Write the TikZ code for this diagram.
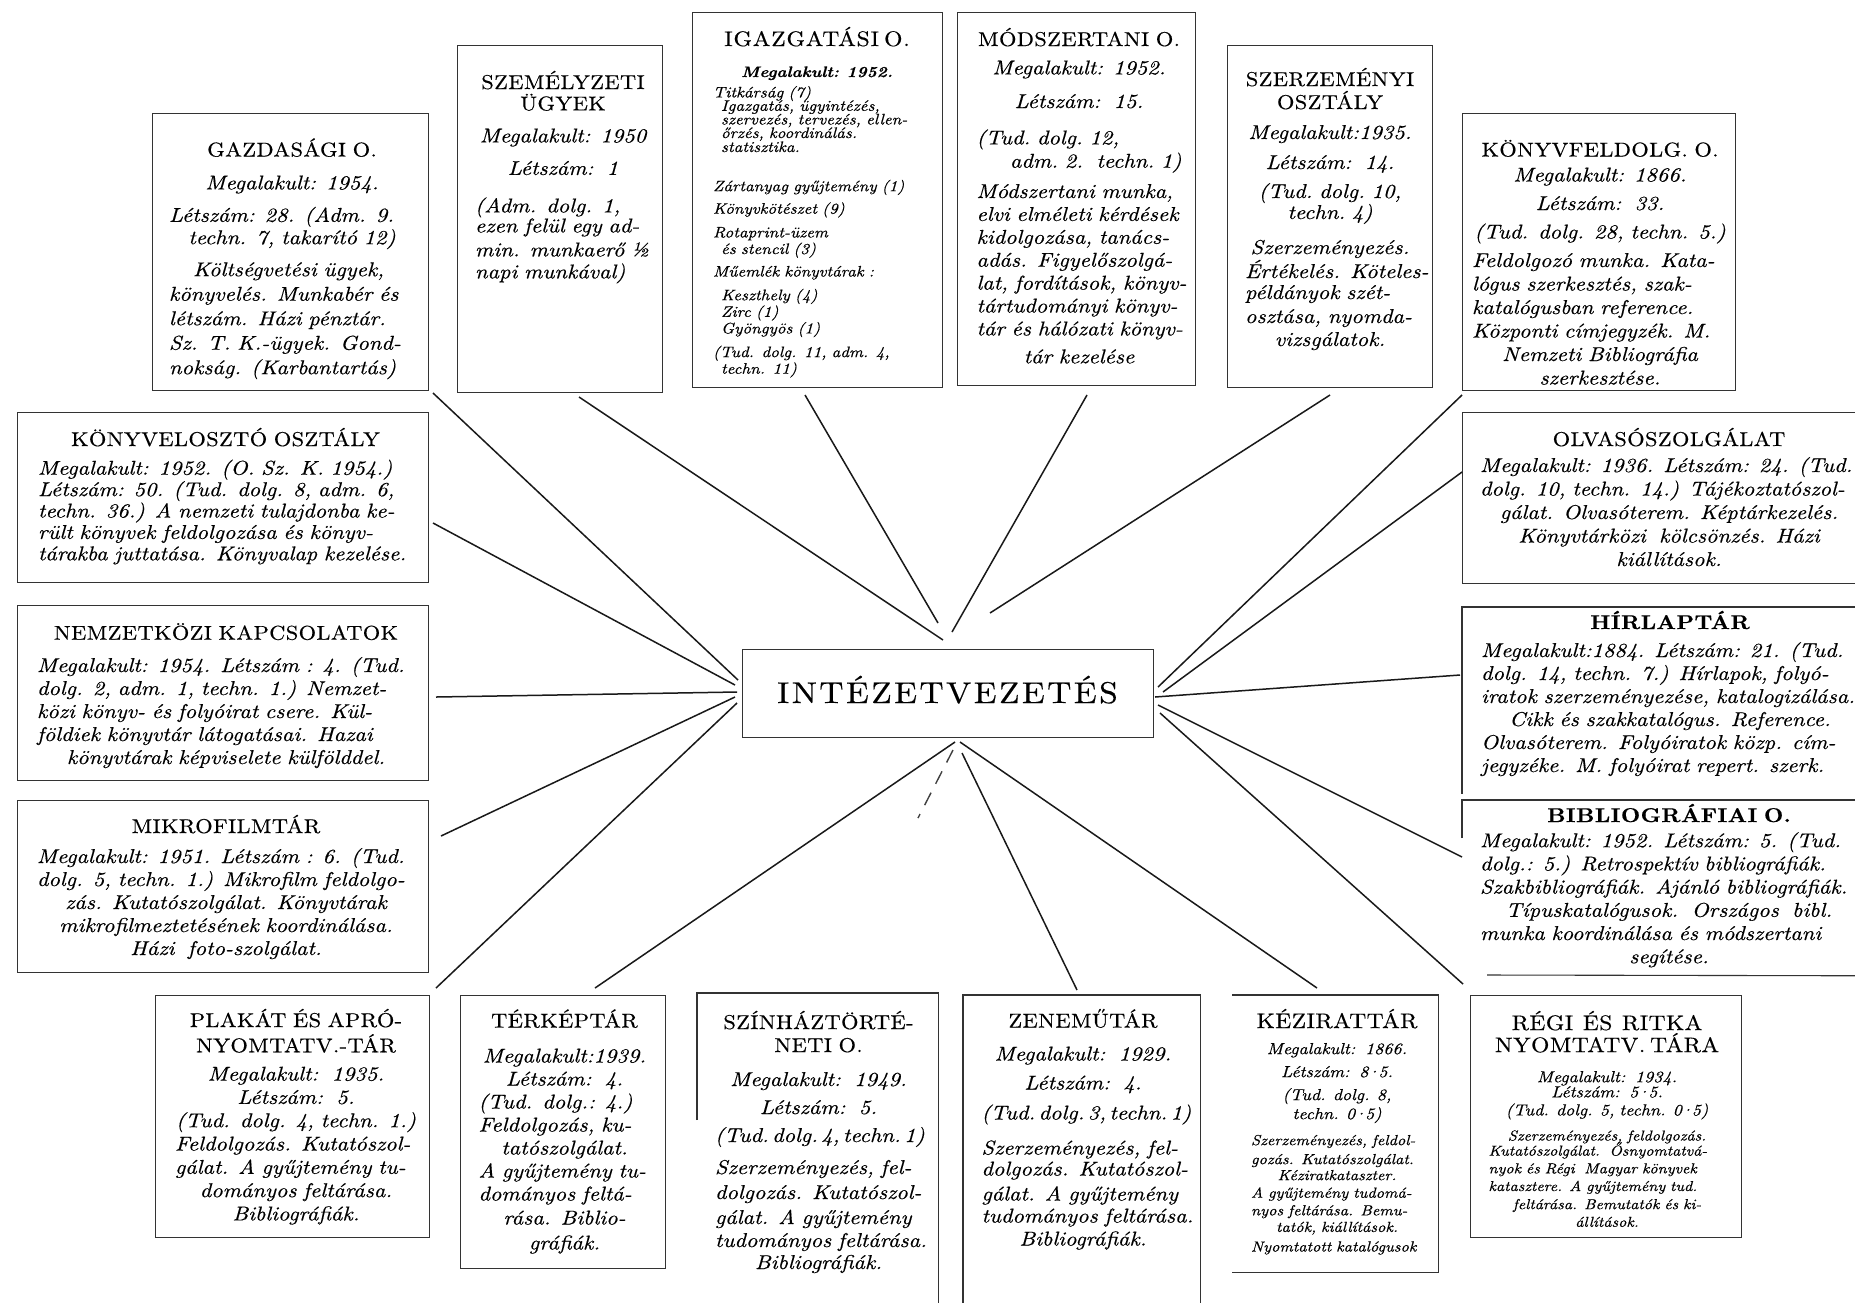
\documentclass[tikz,border=0pt]{standalone}
\usepackage{fontspec}
\setmainfont{lmroman10-regular.otf}[ItalicFont=lmroman10-italic.otf,BoldFont=lmroman10-bold.otf,BoldItalicFont=lmroman10-bolditalic.otf,FakeStretch=1.12,FakeBold=0.4]
\newcommand\J[1]{\makebox[\linewidth][s]{#1}}
\newcommand\ttl[2][2]{{\upshape\addfontfeature{LetterSpace=#1}#2}}
\newcommand\fs[2]{\fontsize{#1}{#2}\selectfont\lineskiplimit=-100pt\relax\itshape}
\newcommand\sz[1]{\fontsize{#1}{8.5}\selectfont}
\newcommand\md{\kern-.12em·\kern-.12em}
\tikzset{
  box/.style={draw=black!80,line width=0.55pt,inner sep=0pt,anchor=north west},
  openbox/.style={inner sep=0pt,anchor=north west},
  rim/.style={draw=black!80,line width=0.55pt},
  txt/.style={inner sep=0pt,anchor=base,align=center},
  conn/.style={line width=0.75pt,black!90},
  faintconn/.style={line width=0.7pt,black!75,dash pattern=on 7pt off 5pt}
}
\begin{document}
\begin{tikzpicture}[x=0.5pt,y=-0.5pt]
\useasboundingbox (0,0) rectangle (1855,1302);
\clip (0,0) rectangle (1855,1302);
\fill[white] (0,0) rectangle (1855,1302);

% ---------- boxes ----------
\node[box,minimum width=205.5pt,minimum height=44pt] (hub) at (742,649) {};
\node[box,minimum width=138pt,minimum height=138.5pt] (gazd) at (152,113) {};
\node[box,minimum width=102.5pt,minimum height=173.5pt] (szem) at (457,45) {};
\node[box,minimum width=125pt,minimum height=187.5pt] (igaz) at (692,12) {};
\node[box,minimum width=119pt,minimum height=186.5pt] (modsz) at (957,12) {};
\node[box,minimum width=102.5pt,minimum height=171pt] (szerz) at (1227,45) {};
\node[box,minimum width=136.5pt,minimum height=138.5pt] (konyvf) at (1462,113) {};
\node[box,minimum width=205.5pt,minimum height=85pt] (konyvel) at (17,412) {};
\node[box,minimum width=205.5pt,minimum height=87.5pt] (nemz) at (17,605) {};
\node[box,minimum width=205.5pt,minimum height=86pt] (mikro) at (17,800) {};
\node[box,minimum width=209pt,minimum height=85.5pt] (olv) at (1462,412) {};
\node[openbox,minimum width=209pt,minimum height=93pt] (hirl) at (1462,607) {};
\draw[rim] (hirl.south west) -- (hirl.north west) -- (hirl.north east);
\node[openbox,minimum width=209pt,minimum height=87.5pt] (bibl) at (1462,800) {};
\draw[rim] (1462,838) -- (bibl.north west) -- (bibl.north east);
\draw[rim] (1487,975) -- (bibl.south east);
\node[box,minimum width=136.75pt,minimum height=121pt] (plakat) at (155,995) {};
\node[box,minimum width=102.5pt,minimum height=136.5pt] (terkep) at (460,995) {};
\node[openbox,minimum width=120.5pt,minimum height=163.5pt] (szinh) at (697,993) {};
\draw[rim] (697,1120) -- (szinh.north west) -- (szinh.north east) -- (szinh.south east);
\node[openbox,minimum width=118.5pt,minimum height=162.5pt] (zene) at (963,995) {};
\draw[rim] (zene.south west) -- (zene.north west) -- (zene.north east) -- (zene.south east);
\node[openbox,minimum width=103pt,minimum height=138.5pt] (kezir) at (1232,995) {};
\draw[rim] (kezir.north west) -- (kezir.north east) -- (kezir.south east) -- (kezir.south west);
\node[box,minimum width=135.5pt,minimum height=121pt] (regi) at (1470,995) {};

% ---------- connectors ----------
\coordinate (gazd-e) at (433,393);    \coordinate (gazd-h) at (738,680);
\coordinate (konyvel-e) at (433,523); \coordinate (konyvel-h) at (735,685);
\coordinate (nemz-e) at (436,697);    \coordinate (nemz-h) at (737,692);
\coordinate (mikro-e) at (441,836);   \coordinate (mikro-h) at (735,697);
\coordinate (plakat-e) at (436,988);  \coordinate (plakat-h) at (737,703);
\coordinate (szem-e) at (579,397);    \coordinate (szem-h) at (943,640);
\coordinate (igaz-e) at (805,395);    \coordinate (igaz-h) at (938,623);
\coordinate (modsz-e) at (1087,395);  \coordinate (modsz-h) at (952,632);
\coordinate (szerz-e) at (1330,395);  \coordinate (szerz-h) at (990,613);
\coordinate (konyvf-e) at (1462,395); \coordinate (konyvf-h) at (1158,687);
\coordinate (olv-e) at (1462,472);    \coordinate (olv-h) at (1163,692);
\coordinate (hirl-e) at (1460,675);   \coordinate (hirl-h) at (1155,697);
\coordinate (bibl-e) at (1462,857);   \coordinate (bibl-h) at (1158,705);
\coordinate (regi-e) at (1463,984);   \coordinate (regi-h) at (1160,713);
\coordinate (terkep-e) at (595,988);  \coordinate (terkep-h) at (955,742);
\coordinate (szinh-e) at (918,818);   \coordinate (szinh-h) at (953,750);
\coordinate (zene-e) at (1077,990);   \coordinate (zene-h) at (962,753);
\coordinate (kezir-e) at (1317,988);  \coordinate (kezir-h) at (960,742);
\foreach \n in {gazd,konyvel,nemz,mikro,plakat,szem,igaz,modsz,szerz,konyvf,olv,hirl,bibl,regi,terkep,zene,kezir}
  \draw[conn] (\n-e) -- (\n-h);
\draw[faintconn] (szinh-h) -- (szinh-e);

% ---------- texts ----------
\node[txt] (hubT) at (947.5,703) {\fontsize{15}{18}\selectfont\addfontfeature{LetterSpace=8}INTÉZETVEZETÉS};

\node[txt,text width=123pt,font=\fs{10}{12.25}] (gazdT) at (292,156.5) {%
\ttl{GAZDASÁGI O.}\\[4.2pt]
Megalakult: 1954.\\[3.95pt]
\J{Létszám: 28. (Adm. 9.}\\[-1.05pt]
techn. 7, takarító 12)\\[3.75pt]
\J{\hspace*{1.2em}Költségvetési ügyek,}\\
\J{könyvelés. Munkabér és}\\
\J{létszám. Házi pénztár.}\\
\J{Sz. T. K.-ügyek. Gond-}\\
\J{nokság. (Karbantartás)}};

\node[txt,text width=88pt,font=\fs{10}{11}] (szemT) at (563,89) {%
\ttl{SZEMÉLYZETI}\\[-0.3pt]
\ttl{ÜGYEK}\\[5pt]
Megalakult: 1950\\[5.25pt]
Létszám:\ \ 1\\[7.75pt]
\J{(Adm. dolg. 1,}\\[-1pt]
\J{ezen felül egy ad-}\\[1pt]
\J{min. munkaerő ½}\\
\J{napi munkával)}};

\node[txt,align=left,text width=104pt,font=\fs{7.6}{7}] (igazT) at (817,46) {%
\makebox[\linewidth][c]{\fontsize{10.5}{7}\selectfont\ttl[4]{IGAZGATÁSI O.}}\\[8.5pt]
\makebox[\linewidth][c]{\bfseries Megalakult: 1952.}\\[3.2pt]
\mbox{Titkárság (7)}\\[-0.3pt]
\mbox{\hspace*{4pt}Igazgatás, ügyintézés,}\\[-0.2pt]
\mbox{\hspace*{4pt}szervezés, tervezés, ellen-}\\[-0.2pt]
\mbox{\hspace*{4pt}őrzés, koordinálás.}\\
\mbox{\hspace*{4pt}statisztika.}\\[12.6pt]
\mbox{Zártanyag gyűjtemény (1)}\\[4.25pt]
\mbox{Könyvkötészet (9)}\\[4.85pt]
\mbox{Rotaprint-üzem}\\[1.3pt]
\mbox{\hspace*{4pt}és stencil (3)}\\[4.25pt]
\mbox{Műemlék könyvtárak :}\\[4.85pt]
\mbox{\hspace*{4pt}Keszthely (4)}\\[1.3pt]
\mbox{\hspace*{4pt}Zirc (1)}\\[1.3pt]
\mbox{\hspace*{4pt}Gyöngyös (1)}\\[4.85pt]
\mbox{(Tud. dolg. 11, adm. 4,}\\[1.3pt]
\mbox{\hspace*{4pt}techn. 11)}};

\node[txt,text width=102.5pt,font=\fs{10}{11.45}] (modszT) at (1079,46) {%
\ttl{MÓDSZERTANI O.}\\[2.75pt]
Megalakult: 1952.\\[5.35pt]
Létszám:\ \ 15.\\[6.75pt]
\makebox[\linewidth][l]{(Tud.\ dolg.\ 12,}\\[0.2pt]
\makebox[\linewidth][r]{adm.\ 2.\ \ techn.\ 1)}\\[3.7pt]
\J{Módszertani munka,}\\
\J{elvi elméleti kérdések}\\
\J{kidolgozása, tanács-}\\
\J{adás. Figyelőszolgá-}\\
\J{lat, fordítások, könyv-}\\
\J{tártudományi könyv-}\\
\J{tár és hálózati könyv-}\\[2.5pt]
tár kezelése};

\node[txt,text width=85pt,font=\fs{10}{11}] (szerzT) at (1330,86) {%
\ttl{SZERZEMÉNYI}\\[0.5pt]
\ttl{OSZTÁLY}\\[4pt]
Megalakult:1935.\\[4pt]
Létszám:\ \ 14.\\[3.5pt]
(Tud.\ dolg.\ 10,\\[-0.5pt]
techn.\ 4)\\[6.5pt]
Szerzeményezés.\\[1pt]
\J{Értékelés. Köteles-}\\[-0.5pt]
\J{példányok szét-}\\[1pt]
\J{osztása, nyomda-}\\[0.5pt]
vizsgálatok.};

\node[txt,text width=128pt,font=\fs{10}{11.75}] (konyvfT) at (1600,156.5) {%
\ttl{KÖNYVFELDOLG. O.}\\[0.75pt]
Megalakult: 1866.\\[2.5pt]
Létszám:\ \ 33.\\[2.5pt]
(Tud. dolg. 28, techn. 5.)\\[2.5pt]
\J{Feldolgozó munka. Kata-}\\
\J{lógus szerkesztés, szak-}\\
\J{katalógusban reference.}\\
\J{Központi címjegyzék. M.}\\
Nemzeti Bibliográfia\\
szerkesztése.};

\node[txt,text width=187.5pt,font=\fs{10}{10.7}] (konyvelT) at (225.5,446) {%
\ttl{KÖNYVELOSZTÓ OSZTÁLY}\\[3.65pt]
\J{Megalakult: 1952. (O. Sz. K. 1954.)}\\
\J{Létszám: 50. (Tud. dolg. 8, adm. 6,}\\
\J{techn. 36.) A nemzeti tulajdonba ke-}\\
\J{rült könyvek feldolgozása és könyv-}\\
\J{tárakba juttatása. Könyvalap kezelése.}};

\node[txt,text width=189pt,font=\fs{10}{11.5}] (nemzT) at (226,639.7) {%
\ttl{NEMZETKÖZI KAPCSOLATOK}\\[4.65pt]
\J{Megalakult: 1954. Létszám : 4. (Tud.}\\
\J{dolg. 2, adm. 1, techn. 1.) Nemzet-}\\
\J{közi könyv- és folyóirat csere. Kül-}\\
\J{földiek könyvtár látogatásai. Hazai}\\
könyvtárak képviselete külfölddel.};

\node[txt,text width=189pt,font=\fs{10}{11.5}] (mikroT) at (226,833) {%
\ttl{MIKROFILMTÁR}\\[3.5pt]
\J{Megalakult: 1951. Létszám : 6. (Tud.}\\
\J{dolg. 5, techn. 1.) Mikrofilm feldolgo-}\\
zás. Kutatószolgálat. Könyvtárak\\
mikrofilmeztetésének koordinálása.\\
Házi\ \ foto-szolgálat.};

\node[txt,text width=189pt,font=\fs{10}{11.75}] (olvT) at (1669,446) {%
\ttl{OLVASÓSZOLGÁLAT}\\[1.25pt]
\J{Megalakult: 1936. Létszám: 24. (Tud.}\\
\J{dolg. 10, techn. 14.) Tájékoztatószol-}\\
gálat. Olvasóterem. Képtárkezelés.\\
Könyvtárközi\ \ kölcsönzés. Házi\\
kiállítások.};

\node[txt,text width=189pt,font=\fs{10}{11.5}] (hirlT) at (1670,629) {%
{\bfseries\ttl{HÍRLAPTÁR}}\\[2.5pt]
\J{Megalakult:1884. Létszám: 21. (Tud.}\\
\J{dolg. 14, techn. 7.) Hírlapok, folyó-}\\
\J{iratok szerzeményezése, katalogizálása.}\\
Cikk és szakkatalógus. Reference.\\
\J{Olvasóterem. Folyóiratok közp. cím-}\\
\J{jegyzéke. M. folyóirat repert. szerk.}};

\node[txt,text width=189pt,font=\fs{10}{11.6}] (biblT) at (1669,822) {%
{\bfseries\ttl{BIBLIOGRÁFIAI O.}}\\[1pt]
\J{Megalakult: 1952. Létszám: 5. (Tud.}\\
\J{dolg.: 5.) Retrospektív bibliográfiák.}\\
\J{Szakbibliográfiák. Ajánló bibliográfiák.}\\
Típuskatalógusok.\ \ Országos\ \ bibl.\\
\J{munka koordinálása és módszertani}\\
segítése.};

\node[txt,text width=121pt,font=\fs{10}{11.65}] (plakatT) at (296,1027) {%
\ttl{PLAKÁT ÉS APRÓ-}\\[1pt]
\ttl{NYOMTATV.-TÁR}\\[2.5pt]
Megalakult:\ \ 1935.\\
Létszám:\ \ 5.\\
(Tud. dolg. 4, techn. 1.)\\
\J{Feldolgozás. Kutatószol-}\\
\J{gálat. A gyűjtemény tu-}\\
dományos feltárása.\\
Bibliográfiák.};

\node[txt,text width=86pt,font=\fs{10}{11.5}] (terkepT) at (564.5,1027.5) {%
\ttl{TÉRKÉPTÁR}\\[6pt]
Megalakult:1939.\\
Létszám:\ \ 4.\\
\J{(Tud. dolg.: 4.)}\\
\J{Feldolgozás, ku-}\\
tatószolgálat.\\
\J{A gyűjtemény tu-}\\
\J{dományos feltá-}\\[0.5pt]
rása. Biblio-\\[1pt]
gráfiák.};

\node[txt,text width=103.5pt,font=\fs{10}{12}] (szinhT) at (818.5,1029) {%
\ttl{SZÍNHÁZTÖRTÉ-}\\[-0.5pt]
\ttl{NETI O.}\\[5pt]
Megalakult:\ \ 1949.\\[2pt]
Létszám:\ \ 5.\\[2pt]
(Tud.\,dolg.\,4,\,techn.\,1)\\[4pt]
\J{Szerzeményezés, fel-}\\[0.5pt]
\J{dolgozás. Kutatószol-}\\[0.5pt]
\J{gálat. A gyűjtemény}\\[-0.5pt]
\J{tudományos feltárása.}\\[-1pt]
Bibliográfiák.};

\node[txt,text width=101.5pt,font=\fs{10}{11.5}] (zeneT) at (1083,1027.5) {%
\ttl{ZENEMŰTÁR}\\[5pt]
Megalakult:\ \ 1929.\\[3pt]
Létszám:\ \ 4.\\[3.5pt]
(Tud.\,dolg.\,3,\,techn.\,1)\\[6pt]
\J{Szerzeményezés, fel-}\\[-1pt]
\J{dolgozás. Kutatószol-}\\[1pt]
\J{gálat. A gyűjtemény}\\[-0.5pt]
\J{tudományos feltárása.}\\
Bibliográfiák.};

\node[txt,text width=86pt,font=\fs{7.3}{8.8}] (kezirT) at (1337,1028) {%
{\sz{10.5}\ttl{KÉZIRATTÁR}}\\[4.25pt]
{\sz{8}Megalakult:\ \ 1866.}\\[2.7pt]
{\sz{8}Létszám:\ \ 8\md5.}\\[2.7pt]
{\sz{8}(Tud. dolg. 8,}\\[0.7pt]
{\sz{8}techn. 0\md5)}\\[4.2pt]
\J{Szerzeményezés, feldol-}\\[0.7pt]
\J{gozás. Kutatószolgálat.}\\[-0.8pt]
Kéziratkataszter.\\
\J{A gyűjtemény tudomá-}\\
\J{nyos feltárása. Bemu-}\\[-0.5pt]
tatók, kiállítások.\\[1pt]
\J{Nyomtatott katalógusok}};

\node[txt,text width=118.5pt,font=\fs{7.2}{8.85}] (regiT) at (1607,1030) {%
{\sz{10.5}\ttl[2]{RÉGI\ \ ÉS\ \ RITKA}}\\[2.2pt]
{\sz{10.5}\ttl{NYOMTATV. TÁRA}}\\[6.2pt]
{\sz{8}Megalakult:\ \ 1934.}\\[-1.3pt]
{\sz{8}Létszám:\ \ 5\md5.}\\[0.2pt]
{\sz{8}(Tud. dolg. 5, techn. 0\md5)}\\[3.7pt]
Szerzeményezés, feldolgozás.\\[-1.3pt]
\J{Kutatószolgálat.\ \ Ősnyomtatvá-}\\
\J{nyok és Régi\ \ Magyar könyvek}\\
\J{katasztere. A gyűjtemény tud.}\\[0.2pt]
feltárása. Bemutatók és ki-\\
állítások.};
\end{tikzpicture}
\end{document}
